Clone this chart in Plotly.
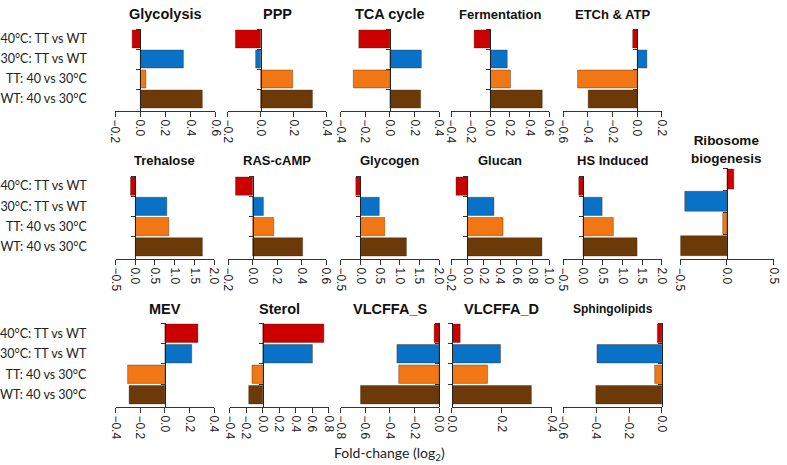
import plotly.graph_objects as go

# conditions, listed top to bottom as in the figure
categories = ["40°C: TT vs WT", "30°C: TT vs WT", "TT: 40 vs 30°C", "WT: 40 vs 30°C"]
bar_colors = ["#CC0000", "#0A72C6", "#F07714", "#6B3A08"]

# log2 fold-change per pathway, same order as categories
glycolysis = [-0.065, 0.344, 0.045, 0.495]
ppp = [-0.153, -0.03, 0.195, 0.315]
tca = [-0.253, 0.256, -0.298, 0.25]
fermentation = [-0.165, 0.172, 0.205, 0.528]
etch_atp = [-0.037, 0.078, -0.484, -0.398]
trehalose = [-0.12, 0.8, 0.85, 1.70]
ras_camp = [-0.14, 0.088, 0.173, 0.408]
glycogen = [-0.117, 0.48, 0.62, 1.17]
glucan = [-0.139, 0.324, 0.435, 0.91]
hs_induced = [-0.106, 0.485, 0.77, 1.37]
ribosome = [0.073, -0.45, -0.045, -0.494]
mev = [0.268, 0.218, -0.302, -0.29]
sterol = [0.742, 0.603, -0.131, -0.17]
vlcffa_s = [-0.04, -0.343, -0.328, -0.639]
vlcffa_d = [0.033, 0.195, 0.143, 0.319]
sphingolipids = [-0.028, -0.395, -0.044, -0.402]

titles = ["Glycolysis", "PPP", "TCA cycle", "Fermentation", "ETCh & ATP",
          "Trehalose", "RAS-cAMP", "Glycogen", "Glucan", "HS Induced", "Ribosome<br>biogenesis",
          "MEV", "Sterol", "VLCFFA_S", "VLCFFA_D", "Sphingolipids"]
series = [glycolysis, ppp, tca, fermentation, etch_atp,
          trehalose, ras_camp, glycogen, glucan, hs_induced, ribosome,
          mev, sterol, vlcffa_s, vlcffa_d, sphingolipids]
x_ranges = [(-0.2, 0.6), (-0.2, 0.4), (-0.4, 0.4), (-0.4, 0.6), (-0.6, 0.2),
            (-0.5, 2.0), (-0.2, 0.6), (-0.5, 2.0), (-0.2, 1.0), (-0.5, 2.0), (-0.5, 0.5),
            (-0.4, 0.4), (-0.4, 0.8), (-0.8, 0.0), (0.0, 0.4), (-0.6, 0.0)]
x_steps = [0.2, 0.2, 0.2, 0.2, 0.2,
           0.5, 0.2, 0.5, 0.2, 0.5, 0.5,
           0.2, 0.2, 0.2, 0.2, 0.2]

# panel boxes in pixels: left, right, top, bottom, title centre y, title size
W, H = 787, 465
boxes = [
    (104, 207, 29, 111, 14, 14.5), (219.5, 321, 29, 111, 14, 14.5),
    (335.7, 436.7, 29, 111, 14, 14.5), (449, 550, 29, 111, 14, 13),
    (564.3, 665.7, 29, 111, 14, 13),
    (104.3, 205.7, 176, 259, 161, 13), (220, 320.7, 176, 259, 161, 13),
    (335.7, 436.7, 176, 259, 161, 13), (449, 550, 176, 259, 161, 13),
    (564.3, 665.7, 176, 259, 161, 13), (684.3, 780.7, 168, 259, 149, 13.5),
    (104.3, 205.7, 323, 407, 309, 14.5), (221.7, 323.3, 323, 407, 309, 14.5),
    (335.7, 436.7, 323, 407, 309, 14.5), (450, 552.3, 323, 407, 309, 14.5),
    (564.3, 665.7, 323, 407, 309, 12),
]
row_first = {0, 5, 11}


def px(x):
    return x / W


def py(y):
    return 1 - y / H


fig = go.Figure()
layout = dict(width=W, height=H, margin=dict(l=0, r=0, t=0, b=0),
              paper_bgcolor="white", plot_bgcolor="white",
              showlegend=False, bargap=0.1, annotations=[])

for i, vals in enumerate(series):
    n = i + 1
    xa = "x" if n == 1 else "x%d" % n
    ya = "y" if n == 1 else "y%d" % n
    fig.add_trace(go.Bar(x=vals, y=categories, orientation="h", xaxis=xa, yaxis=ya,
                         hoverinfo="skip",
                         marker=dict(color=bar_colors, line=dict(color="rgba(60,30,0,0.35)", width=1))))
    x0, x1, top, bot, ty, tsize = boxes[i]
    r0, r1 = x_ranges[i]
    zero_px = x0 + (0 - r0) / (r1 - r0) * (x1 - x0)
    tick_font = dict(family="Liberation Sans, Arial", size=12, color="#222")
    layout["xaxis" if n == 1 else "xaxis%d" % n] = dict(
        domain=[px(x0), px(x1)], range=[r0, r1], anchor=ya,
        dtick=x_steps[i], tick0=0, tickformat=".1f", tickangle=90,
        showline=True, linecolor="#333", linewidth=1, ticks="outside", ticklen=5,
        tickcolor="#333", showgrid=False, zeroline=False, tickfont=tick_font)
    yax = dict(
        domain=[py(bot), py(top)], type="category",
        categoryarray=categories, categoryorder="array", range=[3.6, -0.5],
        anchor="free", position=px(zero_px),
        showline=True, linecolor="#222", linewidth=1, ticks="outside", ticklen=4,
        tickcolor="#333", tickson="boundaries", showgrid=False, zeroline=False,
        showticklabels=i in row_first,
        tickfont=dict(family="Lato, Open Sans, sans-serif", size=12.5, color="#222"))
    if i in row_first:
        # push the condition labels out to the left edge of the figure
        yax["ticklabelstandoff"] = int(round(max(0, zero_px - 75 - 4)))
    layout["yaxis" if n == 1 else "yaxis%d" % n] = yax
    layout["annotations"].append(dict(
        text="<b>%s</b>" % titles[i], x=px((x0 + x1) / 2), y=py(ty),
        xref="paper", yref="paper", showarrow=False, xanchor="center", yanchor="middle",
        font=dict(family="Liberation Sans, Arial", size=tsize, color="#111")))

layout["annotations"].append(dict(
    text="Fold-change (log<sub>2</sub>)", x=px(385.5), y=py(453),
    xref="paper", yref="paper", showarrow=False, xanchor="center", yanchor="middle",
    font=dict(family="Lato, Open Sans, sans-serif", size=14, color="#222")))

fig.update_layout(**layout)
# drop the default page margin so the figure sits at the window's corner
fig.write_html("out.html", config={"displayModeBar": False},
               post_script="document.body.style.margin='0';")
